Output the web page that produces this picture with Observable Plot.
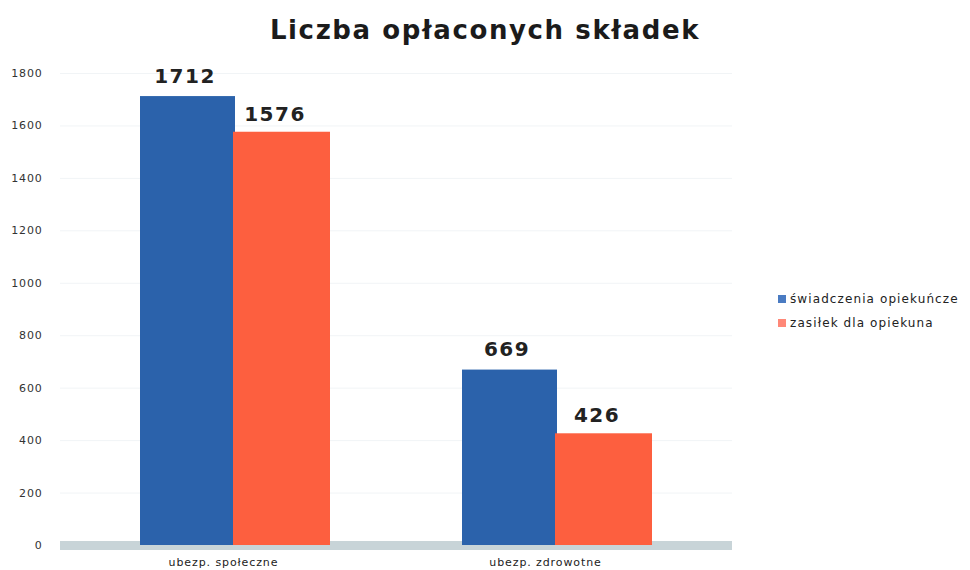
<!DOCTYPE html>
<html><head><meta charset="utf-8">
<script src="https://cdn.jsdelivr.net/npm/d3@7"></script>
<script src="https://cdn.jsdelivr.net/npm/@observablehq/plot@0.6"></script>
<style>
body{margin:0;background:#fff;font-family:"DejaVu Sans",Verdana,sans-serif;}
#wrap{position:relative;width:970px;height:570px;}
#title{position:absolute;left:0;top:15px;width:970px;text-align:center;font-weight:bold;font-size:26px;letter-spacing:1.6px;color:#1b1b1b;}
#legend{position:absolute;left:778px;top:287px;font-size:12px;letter-spacing:1.1px;color:#222;}
#legend div{display:flex;align-items:center;height:24px;}
#legend span{display:inline-block;width:8px;height:8px;margin-right:4px;}
#chart{position:absolute;left:0;top:0;}
#chart g[aria-label="y-axis tick label"] text{letter-spacing:0.8px;}
#chart g[aria-label="x-axis tick label"] text{letter-spacing:0.9px;}
#chart g[aria-label="text"] text{letter-spacing:1.5px;}
</style></head>
<body><div id="wrap"><div id="chart"></div><div id="title">Liczba opłaconych składek</div><div id="legend"></div></div>
<script>
const categories = ["ubezp. społeczne", "ubezp. zdrowotne"];
const series = ["świadczenia opiekuńcze", "zasiłek dla opiekuna"];
const swiadczenia = [1712, 669];
const zasilek = [1576, 426];
const yTicks = [0, 200, 400, 600, 800, 1000, 1200, 1400, 1600, 1800];
const colors = ["#2b62ab", "#fd5f3f"];
const legendColors = ["#4a7bc2", "#ff8878"];

const blue = categories.map((c, i) => ({category: c, value: swiadczenia[i]}));
const red = categories.map((c, i) => ({category: c, value: zasilek[i]}));

const half = 95;
const plot = Plot.plot({
  width: 970,
  height: 570,
  marginLeft: 60,
  marginRight: 238,
  marginTop: 73,
  marginBottom: 25,
  style: {fontFamily: "DejaVu Sans, Verdana, sans-serif", background: "transparent"},
  x: {domain: categories, paddingInner: 0.41, paddingOuter: 0.248, label: null},
  y: {domain: [0, 1800], label: null},
  marks: [
    Plot.gridY(yTicks, {stroke: "#f1f4f6", strokeOpacity: 1}),
    Plot.ruleY([0], {stroke: "#c8d4d8", strokeWidth: 9}),
    Plot.barY(blue, {x: "category", y: "value", fill: colors[0], insetRight: half}),
    Plot.barY(red, {x: "category", y: "value", fill: colors[1], insetLeft: half - 2}),
    Plot.text(blue, {x: "category", y: "value", text: d => String(d.value), dx: -half/2 - 3, dy: -20, fontSize: 20, fontWeight: "bold", fill: "#222"}),
    Plot.text(red, {x: "category", y: "value", text: d => String(d.value), dx: half/2 - 8, dy: -18, fontSize: 20, fontWeight: "bold", fill: "#222"}),
    Plot.axisY({ticks: yTicks, tickSize: 0, tickPadding: 18, fontSize: 11, fill: "#333", tickFormat: d => String(d)}),
    Plot.axisX({tickSize: 0, tickPadding: 13, fontSize: 11, fill: "#222", dx: -12})
  ]
});
document.getElementById("chart").appendChild(plot);

const leg = document.getElementById("legend");
series.forEach((s, i) => {
  const row = document.createElement("div");
  row.innerHTML = `<span style="background:${legendColors[i]}"></span>${s}`;
  leg.appendChild(row);
});
</script></body></html>
